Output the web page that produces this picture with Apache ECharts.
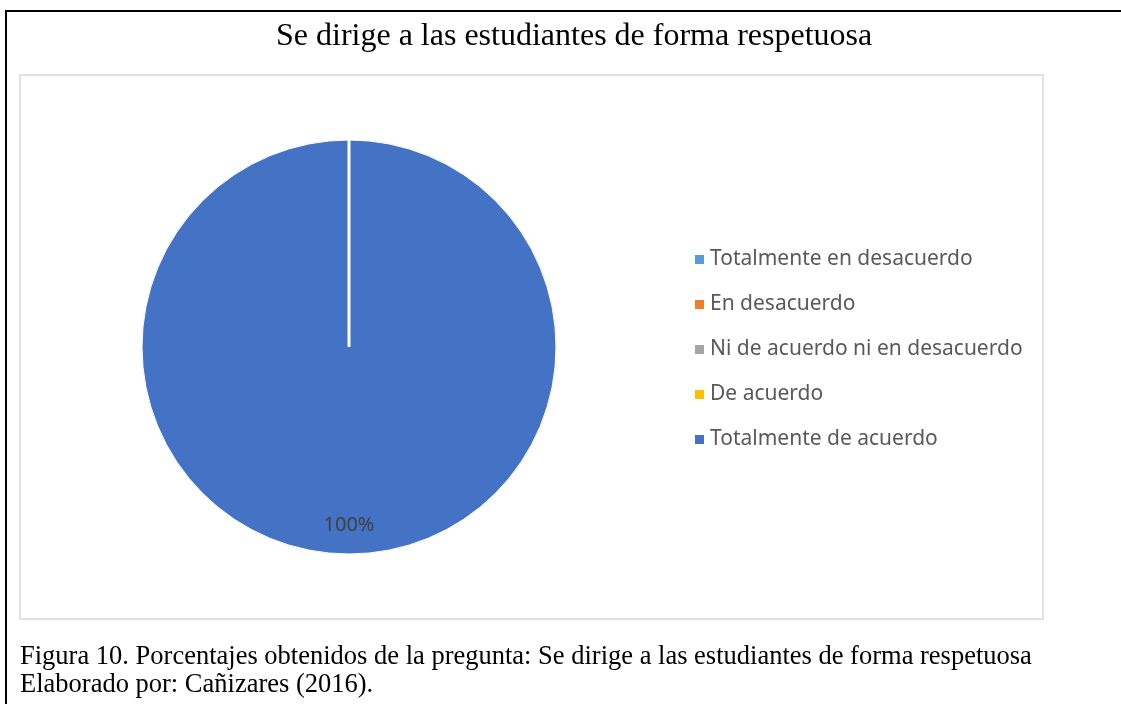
<!DOCTYPE html>
<html>
<head>
<meta charset="utf-8">
<script src="https://cdn.jsdelivr.net/npm/echarts@6/dist/echarts.min.js"></script>
<style>
  html, body { margin: 0; padding: 0; background: #fff; }
  #main { width: 1121px; height: 704px; }
</style>
</head>
<body>
<div id="main"></div>
<script>
// datos del gráfico
var categorias = ['Totalmente en desacuerdo', 'En desacuerdo', 'Ni de acuerdo ni en desacuerdo', 'De acuerdo', 'Totalmente de acuerdo'];
var porcentajes = [0, 0, 0, 0, 100];
var colores = ['#5B9BD5', '#ED7D31', '#A5A5A5', '#FFC000', '#4472C4'];
var titulo = 'Se dirige a las estudiantes de forma respetuosa';
var pie1 = 'Figura 10. Porcentajes obtenidos de la pregunta: Se dirige a las estudiantes de forma respetuosa';
var pie2 = 'Elaborado por: Cañizares (2016).';

// geometría del pastel
var centro = [349, 347];
var radio = 207;

var myChart = echarts.init(document.getElementById('main'));

var serieData = categorias.map(function (c, i) {
  return { name: c, value: porcentajes[i], itemStyle: { color: colores[i] } };
});

var option = {
  animation: false,
  backgroundColor: '#fff',
  title: {
    text: titulo,
    left: 271,
    top: 16,
    textStyle: { fontFamily: 'Liberation Serif', fontWeight: 'normal', fontSize: 32, color: '#000' }
  },
  legend: {
    orient: 'vertical',
    left: 688,
    top: 244,
    icon: 'rect',
    itemWidth: 11,
    itemHeight: 11,
    itemGap: 24,
    data: categorias,
    textStyle: { fontFamily: 'Noto Sans', fontSize: 21, color: '#595959', lineHeight: 21 }
  },
  graphic: [
    // marco exterior
    { type: 'polyline', silent: true, shape: { points: [[6, 704], [6, 11], [1121, 11]] },
      style: { stroke: '#000', lineWidth: 2, fill: null } },
    // borde del área del gráfico
    { type: 'rect', silent: true, shape: { x: 20, y: 75, width: 1023, height: 544 },
      style: { stroke: '#d9d9d9', lineWidth: 1.5, fill: null } },
    // borde blanco de los sectores en cero (inicio del pastel)
    { type: 'line', silent: true, z: 100,
      shape: { x1: centro[0], y1: centro[1], x2: centro[0], y2: centro[1] - radio },
      style: { stroke: '#fff', lineWidth: 3 } },
    { type: 'text', left: 20, top: 644, silent: true,
      style: { text: pie1, fontFamily: 'Liberation Serif', fontSize: 26.5, fill: '#000' } },
    { type: 'text', left: 20, top: 672, silent: true,
      style: { text: pie2, fontFamily: 'Liberation Serif', fontSize: 26.5, fill: '#000' } }
  ],
  series: [{
    type: 'pie',
    center: centro,
    radius: radio,
    startAngle: 90,
    clockwise: true,
    data: serieData,
    itemStyle: { borderColor: '#fff', borderWidth: 1 },
    label: {
      position: 'inside',
      formatter: function (p) { return p.value > 0 ? p.value + '%' : ''; },
      fontFamily: 'Noto Sans',
      fontSize: 20,
      color: '#404040'
    },
    labelLayout: function (p) { return p.dataIndex === 4 ? { dy: 72 } : {}; },
    labelLine: { show: false },
    emphasis: { disabled: true }
  }]
};

myChart.setOption(option);
</script>
</body>
</html>
